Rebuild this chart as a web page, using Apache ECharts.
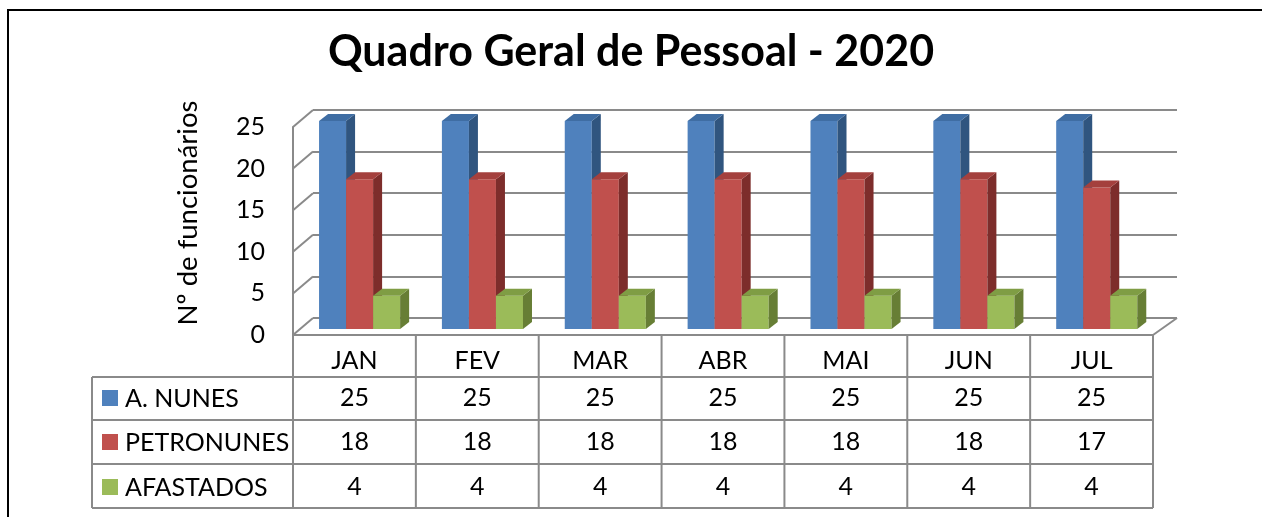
<!DOCTYPE html>
<html>
<head>
<meta charset="utf-8">
<script src="https://cdn.jsdelivr.net/npm/echarts@6/dist/echarts.min.js"></script>
<style>
  html, body { margin: 0; padding: 0; background: #fff; }
  #chart { width: 1262px; height: 517px; }
</style>
</head>
<body>
<div id="chart"></div>
<script>
// dados do quadro
const categories = ['JAN', 'FEV', 'MAR', 'ABR', 'MAI', 'JUN', 'JUL'];
const aNunes = [25, 25, 25, 25, 25, 25, 25];
const petronunes = [18, 18, 18, 18, 18, 18, 17];
const afastados = [4, 4, 4, 4, 4, 4, 4];
const seriesNames = ['A. NUNES', 'PETRONUNES', 'AFASTADOS'];
const yTicks = [0, 5, 10, 15, 20, 25];

const allValues = [aNunes, petronunes, afastados];
const frontColors = ['#4F81BD', '#C0504D', '#9BBB59'];
const sideColors = ['#30557F', '#7D2D2B', '#677E35'];
const topColors = ['#3F6DA3', '#A4403D', '#7F9D44'];
const lineColor = '#8A8A8A';
const font = 'Lato, "Noto Sans", sans-serif';

const chart = echarts.init(document.getElementById('chart'));

// barras 3D: face frontal + lateral + topo
function barItem(s) {
  return function (params, api) {
    const i = api.value(0), v = api.value(1);
    const band = api.size([1, 0])[0];
    const base = api.coord([i, 0]);
    const topP = api.coord([i, v]);
    const w = band * 0.22;
    const xl = base[0] - band / 2 + band * 0.212 + s * w;
    const xr = xl + w;
    const yb = base[1] - 6, yt = topP[1] - 6;
    const dx = 9, dy = 7;
    return {
      type: 'group',
      children: [
        { type: 'rect', shape: { x: xl, y: yt, width: w, height: yb - yt }, style: { fill: frontColors[s] } },
        { type: 'polygon', shape: { points: [[xr, yt], [xr + dx, yt - dy], [xr + dx, yb - dy], [xr, yb]] }, style: { fill: sideColors[s] } },
        { type: 'polygon', shape: { points: [[xl, yt], [xl + dx, yt - dy], [xr + dx, yt - dy], [xr, yt]] }, style: { fill: topColors[s] } }
      ]
    };
  };
}

// parede lateral esquerda e diagonal do piso
function wallItem(params, api) {
  const v = api.value(1);
  const band = api.size([1, 0])[0];
  const p = api.coord([0, v]);
  const leftX = p[0] - band / 2;
  const children = [
    { type: 'line', shape: { x1: leftX, y1: p[1], x2: leftX + 20, y2: p[1] - 17 }, style: { stroke: lineColor, lineWidth: 2 } }
  ];
  if (v === 0) {
    const last = api.coord([categories.length - 1, 0]);
    const rightX = last[0] + band / 2;
    children.push({ type: 'line', shape: { x1: rightX, y1: p[1], x2: rightX + 24, y2: p[1] - 17 }, style: { stroke: lineColor, lineWidth: 2 } });
  }
  return { type: 'group', children: children };
}

// tabela de dados
const rowTops = [0, 42, 85, 129, 173];
const rowText = [26, 63, 107, 152];
function tableItem(params, api) {
  const i = api.value(0);
  const band = api.size([1, 0])[0];
  const p = api.coord([i, 0]);
  const x0 = p[0] - band / 2, y0 = p[1];
  const txt = (t, x, y, align) => ({
    type: 'text', x: x, y: y,
    style: { text: t, align: align || 'center', verticalAlign: 'middle', fontSize: 25, fontFamily: font, fill: '#000' }
  });
  const ln = (x1, y1, x2, y2) => ({ type: 'line', shape: { x1, y1, x2, y2 }, style: { stroke: lineColor, lineWidth: 2 } });
  const children = [
    ln(x0, y0, x0, y0 + rowTops[4]),
    txt(categories[i], p[0], y0 + rowText[0])
  ];
  allValues.forEach((vals, s) => {
    children.push(txt(String(vals[i]), p[0], y0 + rowText[s + 1]));
  });
  if (i === categories.length - 1) {
    children.push(ln(x0 + band, y0, x0 + band, y0 + rowTops[4]));
  }
  if (i === 0) {
    const legL = x0 - 201;
    const rightX = api.coord([categories.length - 1, 0])[0] + band / 2;
    for (let r = 1; r < rowTops.length; r++) {
      children.push(ln(legL, y0 + rowTops[r], rightX, y0 + rowTops[r]));
    }
    children.push(ln(legL, y0 + rowTops[1], legL, y0 + rowTops[4]));
    seriesNames.forEach((name, s) => {
      const cy = y0 + rowText[s + 1];
      children.push({ type: 'rect', shape: { x: legL + 10, y: cy - 8, width: 16, height: 16 }, style: { fill: frontColors[s] } });
      children.push(txt(name, legL + 33, cy + 1, 'left'));
    });
  }
  return { type: 'group', children: children };
}

chart.setOption({
  animation: false,
  backgroundColor: '#fff',
  title: {
    text: 'Quadro Geral de Pessoal - 2020',
    left: 'center',
    top: 26,
    textStyle: { fontSize: 43, fontWeight: 'bold', fontFamily: font, color: '#000' }
  },
  graphic: [
    { type: 'rect', shape: { x: 8, y: 10, width: 1300, height: 600 }, style: { fill: 'none', stroke: '#000', lineWidth: 2 } },
    {
      type: 'text', x: 188, y: 213, rotation: Math.PI / 2,
      style: { text: 'Nº de funcionários', align: 'center', verticalAlign: 'middle', fontSize: 27.5, fontFamily: font, fill: '#000' }
    }
  ],
  grid: [
    { left: 293, right: 109, top: 127, bottom: 182 },
    { left: 313, right: 85, top: 110, bottom: 199 }
  ],
  xAxis: [
    {
      gridIndex: 0, type: 'category', data: categories,
      axisLine: { lineStyle: { color: lineColor, width: 2 } },
      axisTick: { show: false }, axisLabel: { show: false }
    },
    { gridIndex: 1, type: 'category', data: categories, show: false }
  ],
  yAxis: [
    {
      gridIndex: 0, type: 'value', min: 0, max: 25, interval: 5,
      axisLine: { show: true, lineStyle: { color: lineColor, width: 2 } },
      axisTick: { show: false },
      splitLine: { show: false },
      axisLabel: { margin: 28, fontSize: 25, fontFamily: font, color: '#000' }
    },
    {
      gridIndex: 1, type: 'value', min: 0, max: 25, interval: 5,
      axisLine: { show: false }, axisTick: { show: false }, axisLabel: { show: false },
      splitLine: { show: true, lineStyle: { color: lineColor, width: 2 } }
    }
  ],
  series: [
    {
      type: 'custom', name: 'parede', renderItem: wallItem, clip: false,
      xAxisIndex: 0, yAxisIndex: 0, data: yTicks.map(v => [0, v]), silent: true
    },
    {
      type: 'custom', name: 'tabela', renderItem: tableItem, clip: false,
      xAxisIndex: 0, yAxisIndex: 0, data: categories.map((c, i) => [i, 0]), silent: true
    }
  ].concat(allValues.map((vals, s) => ({
    type: 'custom', name: seriesNames[s], renderItem: barItem(s), clip: false,
    xAxisIndex: 0, yAxisIndex: 0, data: vals.map((v, i) => [i, v])
  })))
});
</script>
</body>
</html>
